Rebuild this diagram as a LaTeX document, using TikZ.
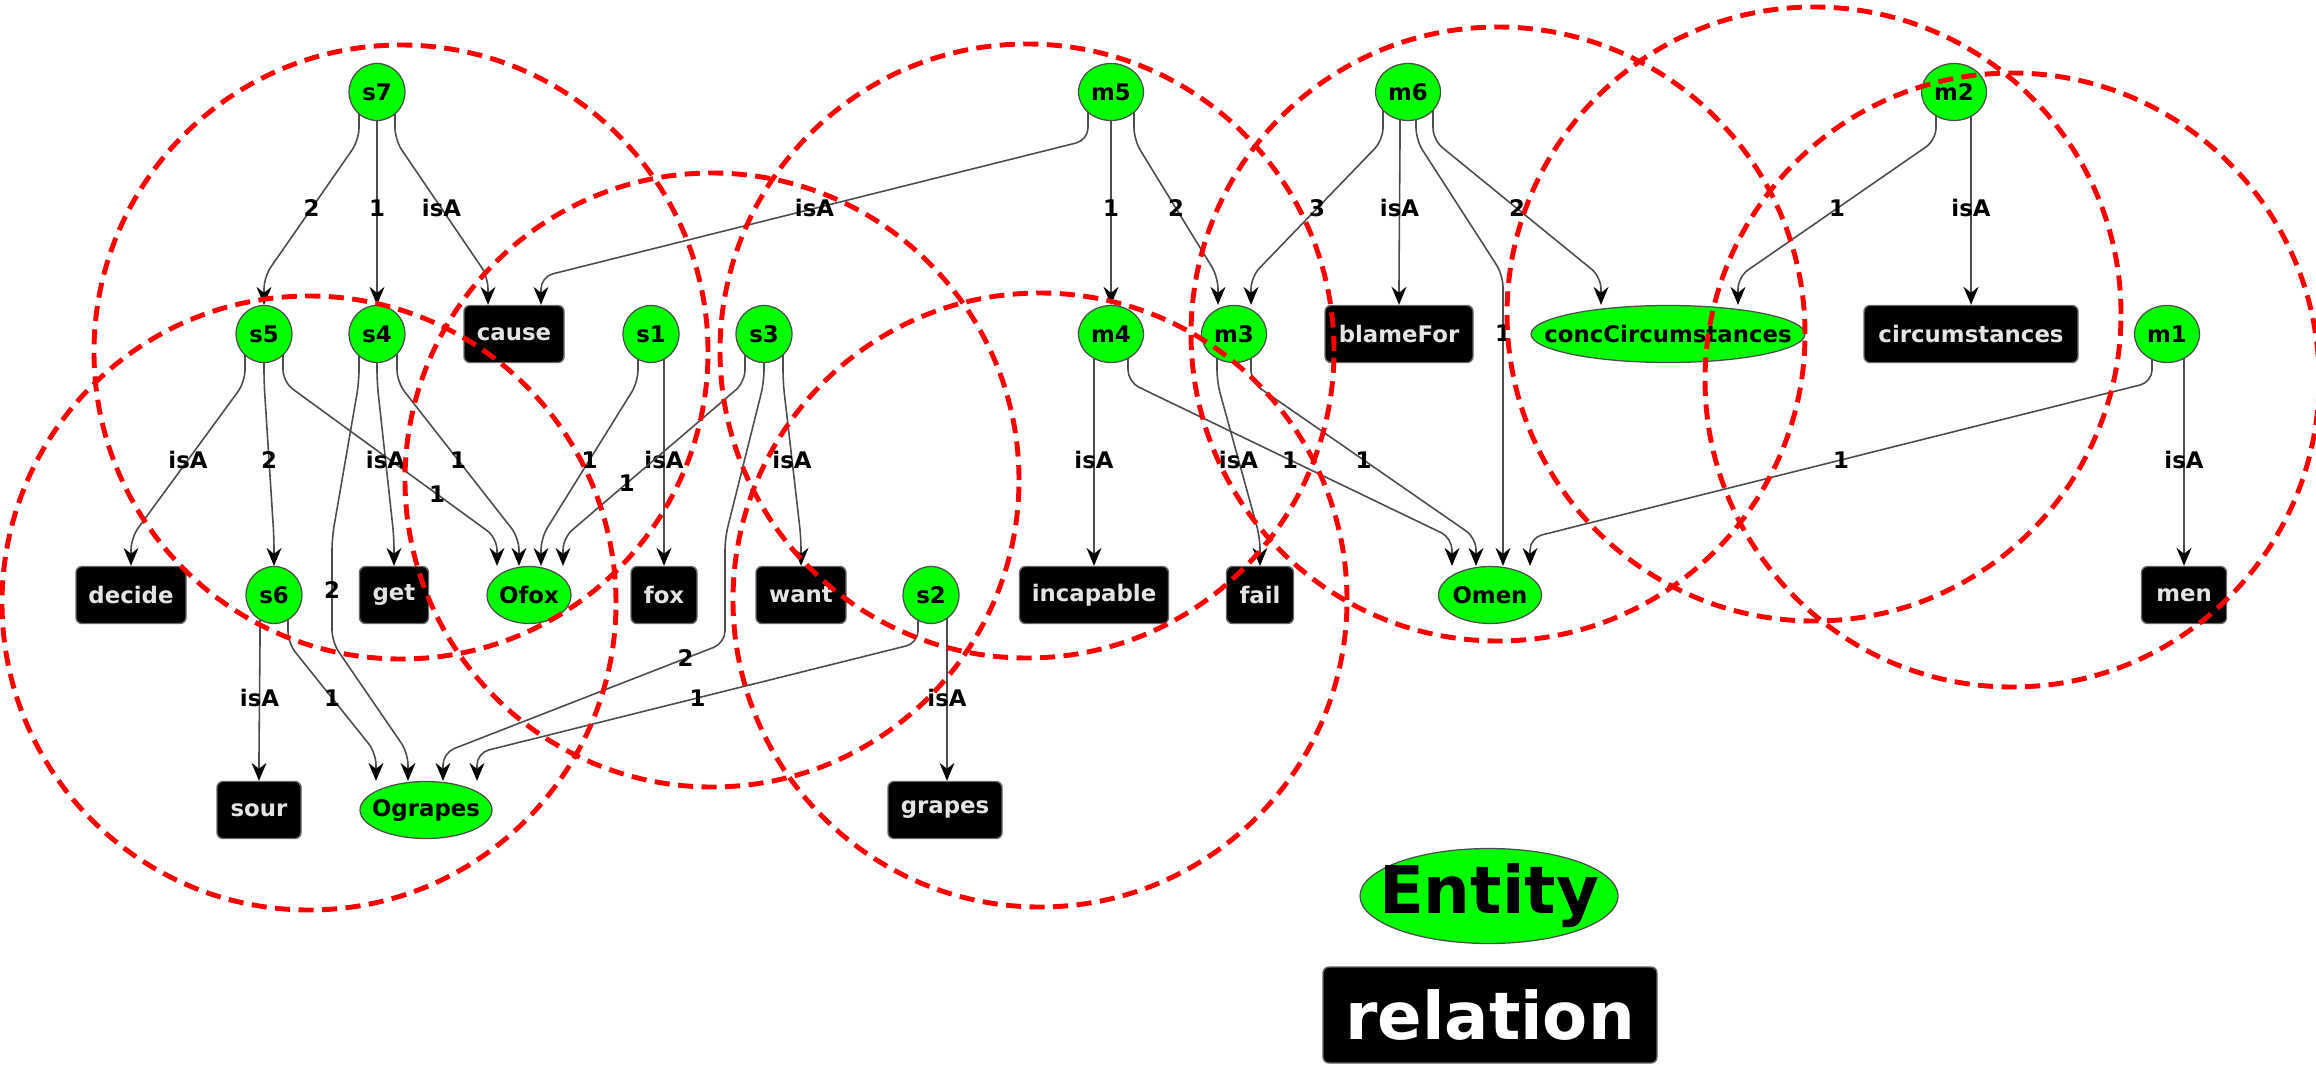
\documentclass[tikz,border=0pt]{standalone}
\usepackage{fontspec}
\setmainfont{DejaVu Sans}
\usepackage{tikz}
\usetikzlibrary{arrows.meta}
\usetikzlibrary{backgrounds}
\usetikzlibrary{shapes.geometric}
\definecolor{boxtext}{HTML}{E4E4E4}
\newcommand{\nodefont}{\fontsize{6.5}{7}\selectfont\bfseries}
\newcommand{\keyfont}{\fontsize{18.7}{20}\selectfont\bfseries}
\tikzset{entity/.style={ellipse, draw=black!70, line width=0.35pt, fill=green,
           inner sep=0pt, minimum width=#1, minimum height=0.57cm, font=\nodefont,
           execute at begin node={\hbox to 0pt\bgroup\hss},
           execute at end node={\hss\egroup}},
         entity/.default=0.56cm,
         relation/.style={rectangle, rounded corners=0.6mm, draw=black!60, fill=black,
           text=boxtext, inner xsep=1.2mm, inner ysep=0pt, minimum width=#1,
           minimum height=0.57cm, font=\nodefont},
         relation/.default=0.6cm}
\tikzset{link/.style={draw=black!70, line width=0.45pt, rounded corners=1.2mm,
           -{Stealth[length=1.8mm, width=1.5mm, inset=0.6mm, black]}},
         lbl/.style={font=\nodefont, text=black, inner sep=0pt},
         ring/.style={red, line width=1.4pt, dash pattern=on 4.3pt off 2.4pt}}

\begin{document}
\begin{tikzpicture}
\useasboundingbox (0,0) rectangle (23.16,-10.71);
% top row
\node[entity] (s7) at (3.77,-0.92) {s7};
\node[entity=0.65cm] (m5) at (11.11,-0.92) {m5};
\node[entity=0.65cm] (m6) at (14.08,-0.92) {m6};
\node[entity=0.65cm] (m2) at (19.54,-0.92) {m2};
% second row
\node[entity] (s5) at (2.64,-3.34) {s5};
\node[entity] (s4) at (3.77,-3.34) {s4};
\node[relation=1.00cm] (cause) at (5.14,-3.34) {cause};
\node[entity] (s1) at (6.51,-3.34) {s1};
\node[entity] (s3) at (7.64,-3.34) {s3};
\node[entity=0.65cm] (m4) at (11.11,-3.34) {m4};
\node[entity=0.65cm] (m3) at (12.34,-3.34) {m3};
\node[relation=1.48cm] (blameFor) at (13.99,-3.34) {blameFor};
\node[entity=2.74cm] (concCircumstances) at (16.68,-3.34) {concCircumstances};
\node[relation=2.14cm] (circumstances) at (19.71,-3.34) {circumstances};
\node[entity=0.65cm] (m1) at (21.67,-3.34) {m1};
% third row
\node[relation=1.10cm] (decide) at (1.31,-5.95) {decide};
\node[entity] (s6) at (2.74,-5.95) {s6};
\node[relation=0.69cm] (get) at (3.94,-5.95) {get};
\node[entity=0.84cm] (Ofox) at (5.29,-5.95) {Ofox};
\node[relation=0.66cm] (fox) at (6.64,-5.95) {fox};
\node[relation=0.90cm] (want) at (8.01,-5.95) {want};
\node[entity] (s2) at (9.31,-5.95) {s2};
\node[relation=1.49cm] (incapable) at (10.94,-5.95) {incapable};
\node[relation=0.67cm] (fail) at (12.60,-5.95) {fail};
\node[entity=1.03cm] (Omen) at (14.90,-5.95) {Omen};
\node[relation=0.85cm] (men) at (21.84,-5.95) {men};
% bottom row
\node[relation=0.84cm] (sour) at (2.59,-8.10) {sour};
\node[entity=1.32cm] (Ograpes) at (4.26,-8.10) {Ograpes};
\node[relation=1.14cm] (grapes) at (9.45,-8.10) {grapes};
% key
\node[entity=2.58cm, minimum height=0.95cm, font=\keyfont] (entitykey) at (14.89,-8.96) {Entity};
\node[relation=3.34cm, minimum height=0.96cm, font=\keyfont, text=white] (relationkey) at (14.90,-10.15) {relation};

\begin{scope}[on background layer]
% from s7
\draw[link] ([xshift=-1.8mm]s7.center) -- ++(0,-4.8mm) -- node[lbl]{2} ([yshift=2.8mm]s5.north) -- (s5.north);
\draw[link] (s7.center) -- ++(0,-4.8mm) -- node[lbl]{1} ([yshift=2.8mm]s4.north) -- (s4.north);
\draw[link] ([xshift=1.8mm]s7.center) -- ++(0,-4.8mm) -- node[lbl]{isA} ([shift={(-2.6mm,2.8mm)}]cause.north) -- ([xshift=-2.6mm]cause.north);
% from m5
\draw[link] ([xshift=-2.3mm]m5.center) -- ++(0,-4.8mm) -- node[lbl]{isA} ([shift={(2.7mm,2.8mm)}]cause.north) -- ([xshift=2.7mm]cause.north);
\draw[link] (m5.center) -- ++(0,-4.8mm) -- node[lbl]{1} ([yshift=2.8mm]m4.north) -- (m4.north);
\draw[link] ([xshift=2.3mm]m5.center) -- ++(0,-4.8mm) -- node[lbl]{2} ([shift={(-1.6mm,2.8mm)}]m3.north) -- ([xshift=-1.6mm]m3.north);
% from m6
\draw[link] ([xshift=-2.5mm]m6.center) -- ++(0,-4.8mm) -- node[lbl]{3} ([shift={(1.7mm,2.8mm)}]m3.north) -- ([xshift=1.7mm]m3.north);
\draw[link] ([xshift=-0.8mm]m6.center) -- ++(0,-4.8mm) -- node[lbl]{isA} ([yshift=2.8mm]blameFor.north) -- (blameFor.north);
\draw[link] ([xshift=0.8mm]m6.center) -- ++(0,-4.8mm) -- (15.03,-2.75) -- node[lbl,pos=.2]{1} ([xshift=1.3mm]Omen.north);
\draw[link] ([xshift=2.5mm]m6.center) -- ++(0,-4.8mm) -- node[lbl]{2} ([shift={(-6.7mm,2.8mm)}]concCircumstances.north) -- ([xshift=-6.7mm]concCircumstances.north);
% from m2
\draw[link] ([xshift=-1.8mm]m2.center) -- ++(0,-4.8mm) -- node[lbl]{1} ([shift={(7mm,2.8mm)}]concCircumstances.north) -- ([xshift=7mm]concCircumstances.north);
\draw[link] ([xshift=1.7mm]m2.center) -- ++(0,-4.8mm) -- node[lbl]{isA} ([yshift=2.8mm]circumstances.north) -- (circumstances.north);
% from s5
\draw[link] ([xshift=-1.9mm]s5.center) -- ++(0,-4.8mm) -- node[lbl]{isA} ([yshift=2.8mm]decide.north) -- (decide.north);
\draw[link] (s5.center) -- ++(0,-4.8mm) -- node[lbl]{2} ([yshift=2.8mm]s6.north) -- (s6.north);
\draw[link] ([xshift=1.9mm]s5.center) -- ++(0,-4.8mm) -- node[lbl,pos=.72]{1} ([shift={(-3.2mm,2.8mm)}]Ofox.north) -- ([xshift=-3.2mm]Ofox.north);
% from s4
\draw[link] (s4.center) -- ++(0,-4.8mm) -- node[lbl]{isA} ([yshift=2.8mm]get.north) -- (get.north);
\draw[link] ([xshift=2mm]s4.center) -- ++(0,-4.8mm) -- node[lbl]{1} ([shift={(-1mm,2.8mm)}]Ofox.north) -- ([xshift=-1mm]Ofox.north);
\draw[link] ([xshift=-1.8mm]s4.center) -- ++(0,-4.8mm) -- (3.32,-5.38) -- node[lbl]{2} (3.32,-6.42) -- ([shift={(-1.8mm,2.8mm)}]Ograpes.north) -- ([xshift=-1.8mm]Ograpes.north);
% from s1
\draw[link] ([xshift=-1.3mm]s1.center) -- ++(0,-4.8mm) -- node[lbl]{1} ([shift={(1.2mm,2.8mm)}]Ofox.north) -- ([xshift=1.2mm]Ofox.north);
\draw[link] (fox.north |- s1.center) -- ++(0,-4.8mm) -- node[lbl]{isA} ([yshift=2.8mm]fox.north) -- (fox.north);
% from s3
\draw[link] ([xshift=-1.9mm]s3.center) -- ++(0,-4.8mm) -- node[lbl,pos=.65]{1} ([shift={(3.4mm,2.8mm)}]Ofox.north) -- ([xshift=3.4mm]Ofox.north);
\draw[link] ([xshift=1.9mm]s3.center) -- ++(0,-4.8mm) -- node[lbl]{isA} ([yshift=2.8mm]want.north) -- (want.north);
\draw[link] (s3.center) -- ++(0,-4.8mm) -- (7.25,-5.38) -- (7.25,-6.43) -- node[lbl,pos=.14]{2} ([shift={(1.7mm,2.8mm)}]Ograpes.north) -- ([xshift=1.7mm]Ograpes.north);
% from m4, m3, m1
\draw[link] ([xshift=-1.7mm]m4.center) -- ++(0,-4.8mm) -- node[lbl]{isA} ([yshift=2.8mm]incapable.north) -- (incapable.north);
\draw[link] ([xshift=1.7mm]m4.center) -- ++(0,-4.8mm) -- node[lbl]{1} ([shift={(-3.8mm,2.8mm)}]Omen.north) -- ([xshift=-3.8mm]Omen.north);
\draw[link] ([xshift=-1.7mm]m3.center) -- ++(0,-4.8mm) -- node[lbl]{isA} ([yshift=2.8mm]fail.north) -- (fail.north);
\draw[link] ([xshift=1.7mm]m3.center) -- ++(0,-4.8mm) -- node[lbl]{1} ([shift={(-1.4mm,2.8mm)}]Omen.north) -- ([xshift=-1.4mm]Omen.north);
\draw[link] ([xshift=-1.5mm]m1.center) -- ++(0,-4.8mm) -- node[lbl]{1} ([shift={(4mm,2.8mm)}]Omen.north) -- ([xshift=4mm]Omen.north);
\draw[link] ([xshift=1.7mm]m1.center) -- ++(0,-4.8mm) -- node[lbl]{isA} ([yshift=2.8mm]men.north) -- (men.north);
% from s6, s2
\draw[link] ([xshift=-1.4mm]s6.center) -- ++(0,-4.8mm) -- node[lbl]{isA} ([yshift=2.8mm]sour.north) -- (sour.north);
\draw[link] ([xshift=1.4mm]s6.center) -- ++(0,-4.8mm) -- node[lbl]{1} ([shift={(-5mm,2.8mm)}]Ograpes.north) -- ([xshift=-5mm]Ograpes.north);
\draw[link] ([xshift=-1.3mm]s2.center) -- ++(0,-4.8mm) -- node[lbl]{1} ([shift={(5.1mm,2.8mm)}]Ograpes.north) -- ([xshift=5.1mm]Ograpes.north);
\draw[link] ([xshift=1.6mm]s2.center) -- ++(0,-4.8mm) -- node[lbl]{isA} ([shift={(0.2mm,2.8mm)}]grapes.north) -- ([xshift=0.2mm]grapes.north);
\end{scope}

% neighbourhood rings
\foreach \c in {(4.01,-3.52), (3.09,-6.03), (7.12,-4.80), (10.27,-3.51),
                (10.40,-6.00), (14.98,-3.34), (18.14,-3.14), (20.12,-3.80)}
  \draw[ring] \c circle (3.07);
\end{tikzpicture}
\end{document}
